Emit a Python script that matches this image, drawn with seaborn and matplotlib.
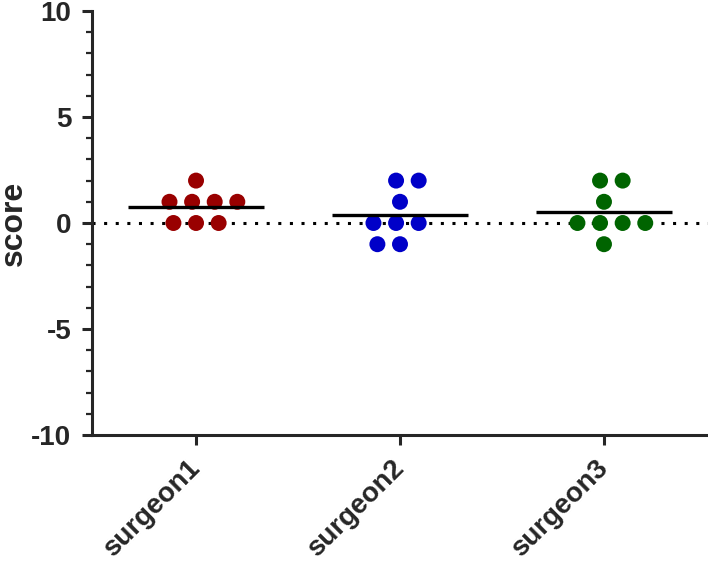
import numpy as np
import pandas as pd
import matplotlib
matplotlib.use('Agg')
import matplotlib.pyplot as plt
import seaborn as sns

# data
surgeons = ['surgeon1', 'surgeon2', 'surgeon3']
surgeon1 = [2, 1, 1, 1, 1, 0, 0, 0]
surgeon2 = [2, 2, 1, 0, 0, 0, -1, -1]
surgeon3 = [2, 2, 1, 0, 0, 0, 0, -1]
colors = ['#990000', '#0000C8', '#006400']

df = pd.DataFrame({
    'surgeon': np.repeat(surgeons, [len(surgeon1), len(surgeon2), len(surgeon3)]),
    'score': surgeon1 + surgeon2 + surgeon3,
})

sns.set_style('ticks')
plt.rcParams['font.family'] = ['Liberation Sans', 'DejaVu Sans']
plt.rcParams['font.weight'] = 'bold'

fig = plt.figure(figsize=(7.08, 5.62), dpi=100)
ax = fig.add_axes([92 / 708, 1 - 435 / 562, 616 / 708, 424 / 562])

# dotted zero line
ax.axhline(0, color='black', lw=2.2, linestyle=(0, (1, 2.8)), zorder=1)

# invisible edge widens the swarm spacing like Prism's layout
sns.swarmplot(data=df, x='surgeon', y='score', hue='surgeon', palette=colors,
              order=surgeons, size=11.5, linewidth=4, edgecolor='none',
              legend=False, ax=ax, zorder=2)

# mean lines
means = df.groupby('surgeon')['score'].mean().reindex(surgeons)
for i, m in enumerate(means):
    ax.hlines(m, i - 1 / 3, i + 1 / 3, color='black', lw=2.4, zorder=3)

ax.set_xlim(-0.51, 2.51)
ax.set_ylim(-10, 10)
ax.set_yticks([-10, -5, 0, 5, 10])
ax.set_yticks(np.arange(-10, 11, 1), minor=True)
ax.set_yticklabels(['-10', '-5', '0', '5', '10'])

sns.despine(ax=ax)
for side in ['left', 'bottom']:
    ax.spines[side].set_linewidth(2.2)
ax.tick_params(axis='both', which='major', length=7, width=2.2, labelsize=20, pad=8)
ax.tick_params(axis='x', which='major', pad=14)
ax.tick_params(axis='y', which='minor', length=4.5, width=1.6)
ax.tick_params(axis='x', which='minor', length=0)

ax.set_xlabel('')
ax.set_ylabel('score', fontsize=23, fontweight='bold')
ax.yaxis.set_label_coords(-0.102, 0.5)
for lab in ax.get_xticklabels():
    lab.set_rotation(45)
    lab.set_ha('right')
    lab.set_va('center')
    lab.set_rotation_mode('anchor')
    lab.set_fontweight('bold')
for lab in ax.get_yticklabels():
    lab.set_fontweight('bold')

fig.savefig('out.png', dpi=100)
